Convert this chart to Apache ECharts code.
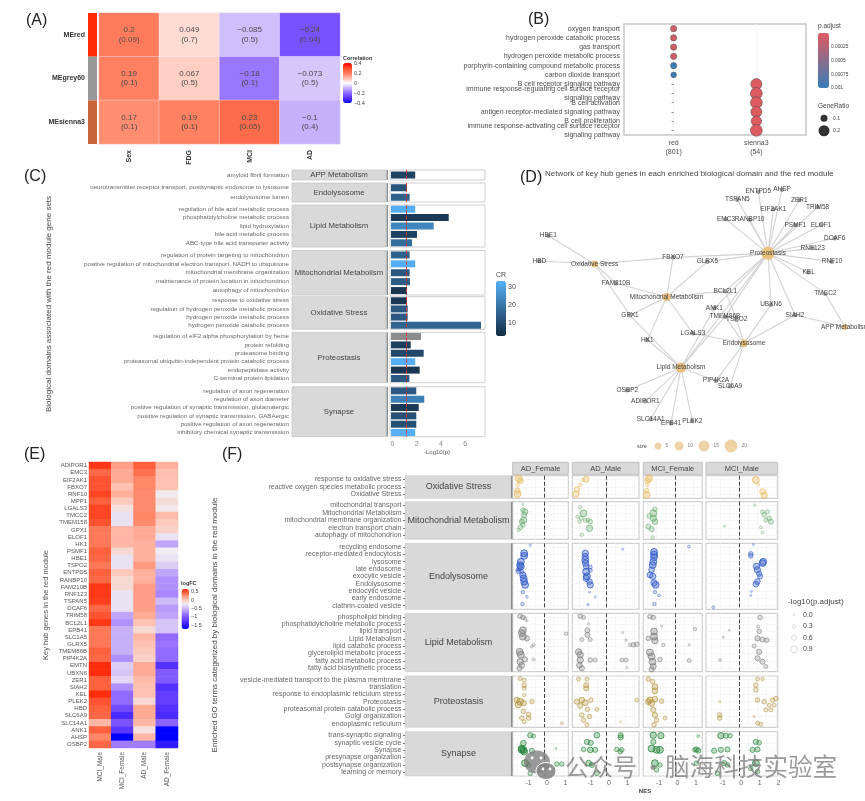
<!DOCTYPE html>
<html><head><meta charset="utf-8">
<style>html,body{margin:0;padding:0;background:#fff}#c{width:865px;height:801px;filter:blur(0.45px)}</style>
<script src="https://cdn.jsdelivr.net/npm/echarts@6/dist/echarts.min.js"></script>
</head><body><div id="c"></div>
<script>
// ---------- Panel A data
const aModules=['MEred','MEgrey60','MEsienna3'];
const aModuleColors=['#ff2a08','#999999','#c8673a'];
const aTraits=['Sex','FDG','MCI','AD'];
const aCorr=[[0.2,0.049,-0.085,-0.24],[0.19,0.067,-0.18,-0.073],[0.17,0.19,0.23,-0.1]];
const aPval=[['0.09','0.7','0.5','0.04'],['0.1','0.5','0.1','0.5'],['0.1','0.1','0.05','0.4']];
const aTicks=[0.4,0.2,0,-0.2,-0.4];
// ---------- Panel B data
const bTerms=['oxygen transport','hydrogen peroxide catabolic process','gas transport','hydrogen peroxide metabolic process','porphyrin-containing compound metabolic process','carbon dioxide transport','B cell receptor signaling pathway','immune response-regulating cell surface receptor\nsignaling pathway','B cell activation','antigen receptor-mediated signaling pathway','B cell proliferation','immune response-activating cell surface receptor\nsignaling pathway'];
const bModules=['red\n(801)','sienna3\n(54)'];
const bColumn=[0,0,0,0,0,0,1,1,1,1,1,1];
const bPadj=[0.0001,0.0001,0.0001,0.0001,0.00098,0.00098,0.00001,0.00001,0.00001,0.00001,0.00001,0.00001];
const bRatio=[0.075,0.075,0.075,0.075,0.075,0.06,0.21,0.23,0.23,0.21,0.19,0.23];
const bPTicks=[0.00025,0.0005,0.00075,0.001];
const bRatioTicks=[0.1,0.2];
// ---------- Panel C data
const cDomains=['APP Metabolism','Endolysosome','Lipid Metabolism','Mitochondrial Metabolism','Oxidative Stress','Proteostasis','Synapse'];
const cTerms=[['amyloid fibril formation'],
['neurotransmitter receptor transport, postsynaptic endosome to lysosome','endolysosome lumen'],
['regulation of bile acid metabolic process','phosphatidylcholine metabolic process','lipid hydroxylation','bile acid metabolic process','ABC-type bile acid transporter activity'],
['regulation of protein targeting to mitochondrion','positive regulation of mitochondrial electron transport, NADH to ubiquinone','mitochondrial membrane organization','maintenance of protein location in mitochondrion','autophagy of mitochondrion'],
['response to oxidative stress','regulation of hydrogen peroxide metabolic process','hydrogen peroxide metabolic process','hydrogen peroxide catabolic process'],
['regulation of eIF2 alpha phosphorylation by heme','protein refolding','proteasome binding','proteasomal ubiquitin-independent protein catabolic process','endopeptidase activity','C-terminal protein lipidation'],
['regulation of axon regeneration','regulation of axon diameter','positive regulation of synaptic transmission, glutamatergic','positive regulation of synaptic transmission, GABAergic','positive regulation of axon regeneration','inhibitory chemical synaptic transmission']];
const cLogP=[[2.0],[1.32,1.54],[2.0,4.77,3.53,2.15,1.74],[1.54,2.0,1.54,1.57,1.32],[1.32,1.38,1.38,7.44],[2.48,1.63,2.7,2.0,2.37,1.52],[2.09,2.75,2.29,2.09,2.09,2.0]];
const cCR=[[8],[12,15],[33,6,24,8,18],[15,33,13,14,5],[5,13,13,16],[-1,7,9,33,5,13],[13,22,6,11,11,33]];
const cXTicks=[0,2,4,6];
const cCRTicks=[10,20,30];
// ---------- Panel D data (layout coordinates of the network)
const dDomains=[['Proteostasis',744,265,707,285,20],['Oxidative Stress',224,297,147,315,5],['Mitochondrial Metabolism',440,396,418,378,8],['Lipid Metabolism',483,608,462,590,13],['Endolysosome',672,535,694,517,7],['APP Metabolism',975,486,934,505,2]];
const dGenes=[['ENTPD5',715,80,693,63],['AHSP',786,74,808,58],['ZER1',838,105,816,92],['TSPAN5',652,104,630,121],['EIF2AK1',760,133,738,150],['EMC3',618,163,594,183],['RANBP10',689,164,686,180],['TRIM58',893,126,915,143],['PSMF1',826,180,804,196],['ELOF1',903,180,925,196],['DCAF6',944,220,921,237],['RNF123',878,250,854,268],['RNF10',936,290,958,274],['KEL',866,322,844,340],['TMCC2',916,386,938,371],['SIAH2',825,450,804,466],['UBXN6',753,419,731,437],['TSPO2',650,464,672,482],['BCL2L1',616,378,636,363],['ANK1',583,430,561,412],['TMEM86B',615,455,600,440],['GLRX5',562,290,583,274],['FBXO7',459,277,481,260],['FAM210B',288,355,266,337],['GPX1',330,451,308,469],['HK1',382,525,360,543],['LGALS3',519,505,497,523],['PIP4K2A',588,647,566,629],['SLC6A9',630,664,652,682],['OSBP2',322,676,344,660],['ADIPOR1',376,709,397,694],['SLC14A1',392,762,369,745],['EPB41',453,775,431,793],['PLEK2',517,768,538,752],['HBE1',85,212,62,232],['HBD',58,288,41,307]];
const dLinks=[['Proteostasis',['ENTPD5','AHSP','ZER1','TSPAN5','EIF2AK1','EMC3','RANBP10','TRIM58','PSMF1','ELOF1','DCAF6','RNF123','RNF10','KEL','TMCC2','SIAH2','UBXN6','FBXO7','GLRX5','BCL2L1','TMEM86B','ANK1','Lipid Metabolism']],
['Oxidative Stress',['HBE1','HBD','FBXO7','GPX1','FAM210B']],
['Mitochondrial Metabolism',['FAM210B','GLRX5','BCL2L1','LGALS3','FBXO7','HK1','GPX1']],
['Lipid Metabolism',['OSBP2','ADIPOR1','SLC14A1','EPB41','PLEK2','PIP4K2A','ANK1','TMEM86B','GPX1','HK1']],
['Endolysosome',['LGALS3','TSPO2','SIAH2','UBXN6','PIP4K2A','SLC6A9','TMEM86B']],
['APP Metabolism',['SIAH2','TMCC2']],['BCL2L1',['TSPO2']]];
const dSizeLegend=[5,10,15,20];
// ---------- Panel E data
const eGenes=['ADIPOR1','EMC3','EIF2AK1','FBXO7','RNF10','MPP1','LGALS3','TMCC2','TMEM158','GPX1','ELOF1','HK1','PSMF1','HBE1','TSPO2','ENTPD5','RANBP10','FAM210B','RNF123','TSPAN5','DCAF6','TRIM58','BCL2L1','EPB41','SLC1A5','GLRX5','TMEM86B','PIP4K2A','EMTN','UBXN6','ZER1','SIAH2','KEL','PLEK2','HBD','SLC6A9','SLC14A1','ANK1','AHSP','OSBP2'];
const eCols=['MCI_Male','MCI_Female','AD_Male','AD_Female'];
const eMciMale=[.6,.42,.5,.5,.55,.45,.55,.55,.5,.35,.35,.35,.45,.42,.35,.45,.42,.6,.6,.58,.42,.5,.6,.35,.35,.35,.45,.42,.65,.65,.45,.45,.65,.5,.45,.42,.1,.45,.3,.42];
const eMciFemale=[.2,.15,.15,.05,.12,0,-.15,-.3,-.3,.1,.1,.1,-.1,-.3,-.3,0,-.1,-.1,-.3,-.3,-.3,-.6,-.7,-.55,-.55,-.55,-.55,-.7,-.4,-.45,-.35,-.7,-.9,-.9,-1.1,-1.35,-1.05,-1.25,-1.75,-.8];
const eAdMale=[.45,.38,.3,.3,.28,.28,.28,.3,.28,.15,.15,.12,.12,.12,.22,.12,.12,.2,.2,.2,.2,.15,.05,-.1,.1,.05,0,-.05,.15,.15,.08,.05,.05,-.1,.15,.15,.1,-.15,.1,-.8];
const eAdFemale=[.12,.06,.05,.05,-.22,-.12,-.2,.08,0,-.05,-.3,-.6,-.25,-.3,-.4,-.6,-.7,-.7,-.75,-.5,-.65,-.6,-.45,-.45,-.9,-.85,-.9,-.9,-1.3,-1,-1,-1.3,-1.2,-1.2,-1.3,-1.35,-.95,-1.75,-1.75,-1.5];
const eTicks=[0.5,0,-0.5,-1,-1.5];
// ---------- Panel F data: [NES, position down the facet, -log10(p.adjust)]
const fCols=['AD_Female','AD_Male','MCI_Female','MCI_Male'];
const fXTickLabels=[[-1,0,1],[-1,0,1],[-1,0,1],[-1,0,1,2]];
const fDomains=['Oxidative Stress','Mitochondrial Metabolism','Endolysosome','Lipid Metabolism','Proteostasis','Synapse'];
const fTerms=[['response to oxidative stress','reactive oxygen species metabolic process','Oxidative Stress'],
['mitochondrial transport','Mitochondrial Metabolism','mitochondrial membrane organization','electron transport chain','autophagy of mitochondrion'],
['recycling endosome','receptor-mediated endocytosis','lysosome','late endosome','exocytic vesicle','Endolysosome','endocytic vesicle','early endosome','clathrin-coated vesicle'],
['phospholipid binding','phosphatidylcholine metabolic process','lipid transport','Lipid Metabolism','lipid catabolic process','glycerolipid metabolic process','fatty acid metabolic process','fatty acid biosynthetic process'],
['vesicle-mediated transport to the plasma membrane','translation','response to endoplasmic reticulum stress','Proteostasis','proteasomal protein catabolic process','Golgi organization','endoplasmic reticulum'],
['trans-synaptic signaling','synaptic vesicle cycle','Synapse','presynapse organization','postsynapse organization','learning or memory']];
const fOxidative=[
[[-1.4,.12,.9],[-1.3,.22,.7],[-1.46,.41,.3],[-1.46,.66,.6],[-1.46,.81,.9]],
[[-1.1,.16,.7],[-1.28,.19,.3],[-1.42,.41,.3],[-1.6,.6,.6],[-1.66,.82,.8]],
[[-1.4,.12,.9],[-1.48,.22,.7],[-1.5,.41,.3],[-1.53,.66,.5],[-1.53,.85,.9]],
[[.92,.19,.9],[1.05,.41,.2],[1.28,.7,.7],[1.37,.88,.8]]];
const fMito=[
[[-1.17,.07,.1],[-1.17,.22,.5],[-1.05,.27,.7],[-1.1,.35,.6],[-1.13,.49,.8],[-1.23,.53,.6],[-1.17,.62,.5],[-1.3,.68,.5],[-1.4,.75,.3]],
[[-1.42,.15,.3],[-1.24,.31,.9],[-1.57,.4,.3],[-1.37,.44,.4],[-1.46,.53,.3],[-1.15,.5,.4],[-1.0,.49,.4],[-.88,.53,.5],[-.92,.71,.8],[-1.33,.88,.3]],
[[-1.08,.2,.5],[-1.17,.31,.9],[-1.39,.38,.5],[-1.17,.44,.8],[-1.08,.53,.7],[-1.44,.66,.6],[-1.26,.73,.6],[-1.21,.95,.3]],
[[.86,.09,.1],[-.76,.65,.1],[1.28,.27,.4],[1.55,.27,.4],[1.37,.35,.5],[1.64,.44,.5],[1.73,.53,.6],[1.46,.49,.4],[1.19,.68,.2],[1.28,.82,.2]]];
const fEndo=[
[[-.77,.03,.1],[-1.1,.15,.9],[-1.1,.19,.9],[-1.28,.28,.9],[-1.32,.33,.9],[-1.28,.35,.9],[-1.35,.38,.6],[-1.41,.43,.4],[-1.46,.41,.3],[-1.23,.43,.4],[-1.17,.48,.8],[-1.13,.53,.9],[-1.1,.58,.9],[-1.05,.63,.9],[-1.17,.74,.3],[-.95,.81,.15],[-1.19,.92,.3]],
[[.88,.09,.05],[-1.15,.15,.8],[-1.15,.2,.8],[-1.15,.25,.9],[-1.13,.3,.8],[-1.1,.35,.7],[-.88,.36,.4],[-1.1,.43,.9],[-.88,.41,.4],[-1.06,.5,.9],[-1.1,.53,.8],[-.92,.58,.7],[-.88,.63,.8],[-.92,.74,.05],[-.61,.81,.05],[-1,.93,.1]],
[[.76,.05,.2],[-1.13,.13,.9],[-1.13,.17,.9],[-1.13,.21,.9],[-1.17,.28,.9],[-1.2,.33,.9],[-1.26,.4,.7],[-1.35,.48,.7],[-1.2,.5,.8],[-1.13,.6,.8],[-1.04,.63,.9],[-1.08,.74,.3],[-.86,.79,.2],[-1.11,.92,.3]],
[[.79,.02,.05],[.65,.16,.5],[.65,.19,.5],[1.32,.28,.9],[1.28,.3,.9],[.95,.35,.8],[1,.4,.8],[1.1,.46,.6],[1.15,.5,.6],[1,.58,.7],[.92,.62,.7],[.68,.73,.05],[.65,.79,.05],[-1.37,.97,.2]]];
const fLipid=[
[[-1.32,.05,.5],[-1.17,.07,.5],[-1.05,.09,.3],[-.95,.13,.1],[-1.17,.29,.9],[-1.23,.34,.9],[-1.17,.4,.9],[-.95,.43,.6],[-.59,.54,.2],[-.68,.57,.2],[1.17,.35,.3],[-1.35,.66,.9],[-1.28,.71,.9],[-1.05,.79,.6],[-.59,.79,.2],[-1.32,.83,.8],[-1.23,.89,.7],[-1.35,.94,.6]],
[[-1.42,.05,.5],[-1.24,.07,.4],[-.97,.18,.1],[-1.03,.29,.6],[-1.03,.37,.6],[-1.33,.45,.4],[-.88,.45,.4],[.88,.33,.05],[1.06,.46,.1],[1.28,.54,.3],[1.64,.53,.5],[1.46,.54,.5],[-1.51,.66,.8],[-1.42,.71,.8],[-1.42,.8,.8],[-.88,.8,.5],[-.61,.8,.4],[-1.46,.89,.7],[-1.33,.94,.6],[.83,.8,.4],[1.06,.8,.4],[1.1,.93,.05]],
[[-1.35,.06,.5],[-1.17,.07,.5],[-.72,.22,.1],[-1.13,.31,.9],[-1.13,.4,.9],[-1.08,.47,.8],[-1.44,.43,.5],[-.63,.54,.3],[1.08,.27,.3],[.77,.54,.1],[.77,.81,.4],[-1.35,.67,.9],[-1.26,.74,.9],[-.81,.79,.5],[-1.21,.83,.9],[-1.17,.91,.7],[-1.26,.96,.6]],
[[1.15,.07,.5],[1.05,.23,.2],[-.52,.29,.05],[-.83,.41,.1],[1.1,.31,.5],[1.01,.43,.6],[1.28,.45,.6],[1.51,.46,.5],[.83,.56,.4],[1.1,.66,.6],[1.01,.77,.6],[1.28,.83,.6],[1.46,.91,.4],[-1.01,.8,.2]]];
const fProteo=[
[[-1.32,.05,.4],[-1.1,.08,.4],[-1.1,.18,.5],[-1.1,.24,.4],[-1.1,.37,.3],[-1.5,.47,.7],[-1.32,.5,.9],[-1.14,.53,.7],[-1.41,.56,.8],[-.68,.5,.5],[-1.14,.69,.5],[-.86,.75,.5],[-1.23,.82,.5],[-.86,.82,.5],[-1.1,.89,.4],[.94,.92,.2]],
[[-1.51,.06,.4],[-1.06,.06,.4],[-1.1,.18,.6],[-1.1,.24,.6],[-1.6,.5,.6],[-1.33,.47,.7],[-1.15,.52,.7],[-.85,.47,.5],[-1.42,.58,.6],[-1.03,.65,.5],[-.52,.65,.4],[-1.33,.76,.5],[-.92,.79,.5],[-1.24,.86,.5],[-1.06,.95,.4],[1.64,.47,.4],[.77,.89,.05]],
[[-1.44,.06,.5],[-1.2,.11,.5],[-1.08,.21,.7],[-1.08,.29,.7],[-1.35,.47,.8],[-1.08,.45,.7],[-1.26,.53,.8],[-.72,.49,.5],[-1.44,.5,.7],[-1.17,.66,.6],[-1.08,.76,.6],[-.54,.82,.4],[-.99,.86,.5],[-1.13,.95,.5]],
[[1.01,.06,.4],[1.28,.06,.3],[.92,.18,.5],[.92,.27,.5],[-1.03,.5,.1],[-1.03,.76,.5],[-1.03,.82,.5],[1.01,.47,.5],[1.37,.5,.5],[1.82,.47,.5],[2,.44,.5],[1.64,.57,.4],[1.91,.57,.4],[1.46,.66,.4],[1.73,.66,.4],[.83,.79,.1],[1.01,.92,.4],[1.19,.94,.4]]];
const fSynapse=[
[[-.77,.08,.6],[-.59,.1,.4],[-1.14,.26,.7],[-1.23,.38,.9],[-1.23,.41,.9],[-1.14,.41,.9],[-1.1,.45,.9],[-.68,.43,.6],[.63,.38,.05],[-1.05,.71,.9],[-.86,.75,.5],[.67,.73,.5],[.94,.73,.5],[-.77,.94,.5]],
[[-.52,.08,.7],[-1.06,.23,.6],[-.85,.25,.6],[-1.24,.4,.5],[-.88,.41,.7],[-.61,.41,.6],[-.97,.71,.7],[-.79,.75,.6],[-.52,.94,.5],[.77,.08,.6],[.77,.13,.6],[.56,.4,.5],[.83,.41,.5],[.74,.45,.5]],
[[-1.17,.08,.8],[-.76,.09,.8],[-1.17,.23,.6],[-1.26,.38,.9],[-.99,.41,.9],[-.81,.41,.9],[-1.08,.71,.9],[-.81,.75,.5],[-.99,.86,.5],[1.26,.1,.2],[1.17,.4,.6],[1.08,.41,.5],[1.26,.43,.6],[1.17,.71,.5]],
[[-.97,.09,.8],[-.7,.09,.6],[-.47,.09,.5],[-1.33,.43,.6],[-.97,.41,.6],[-.61,.4,.6],[-.79,.71,.6],[-.61,.75,.5],[-1.15,.94,.5],[.92,.23,.6],[1.1,.25,.5],[.74,.41,.6],[1.01,.4,.6],[.92,.71,.9],[.65,.83,.5],[1.01,.9,.5]]];
const fLegend=[0,0.3,0.6,0.9];

// ---------- Styling constants
const FONT='"Liberation Sans", Arial, sans-serif';
const corrRamp=['#0000ff','#5a32ff','#8e68ff','#c5b2fa','#ffffff','#ffb8a5','#ff7b5b','#ff4a2a','#ff0000'];
const fcRamp=['#0000ff','#3e20ff','#6d45ff','#9a74ff','#c9b2f8','#f0eef2','#ffc0b0','#ff7755','#ff2a08'];
const fColors=['#e8b95a','#6fae75','#2f58c6','#7f7f7f','#b4953f','#25853a'];
const STRIP='#d9d9d9', FRAME='#cfcfcf', GRIDLINE='#f4f4f4', AXIS_TXT='#595959';

const grids=[],xAxes=[],yAxes=[],series=[],visualMaps=[],gfx=[];
function rectOf(l,t,r,b){return {left:l,top:t,width:r-l,height:b-t};}
function addGrid(rect,style){grids.push(Object.assign({outerBoundsMode:'none',containLabel:false,show:true,borderWidth:0,backgroundColor:'transparent'},rect,style||{}));return grids.length-1;}
function hiddenAxis(g,extra){return Object.assign({gridIndex:g,type:'value',show:false},extra||{});}
function valAxis(g,extra){return Object.assign({gridIndex:g,type:'value',axisLine:{show:false},axisTick:{show:false},axisLabel:{show:false},splitLine:{show:false}},extra||{});}
function catAxis(g,data,extra){return Object.assign({gridIndex:g,type:'category',data:data,axisLine:{show:false},axisTick:{show:false},splitLine:{show:false},splitArea:{show:false},axisLabel:{show:false,interval:0}},extra||{});}
function text(x,y,str,o){o=o||{};gfx.push({type:'text',x:x,y:y,rotation:o.rot||0,z:20,silent:true,style:{text:str,fill:o.color||'#333',font:(o.weight||'normal')+' '+(o.size||7)+'px '+(o.family||FONT),align:o.align||'left',verticalAlign:'middle'}});}
function rect(x,y,w,h,fill){gfx.push({type:'rect',x:x,y:y,z:19,silent:true,shape:{width:w,height:h},style:{fill:fill}});}

function colorbar(l,t,w,h,min,max,ticks,ramp,seriesIdx,dim,size,inverse,extra){
  visualMaps.push(Object.assign({type:'continuous',min:min,max:max,inRange:{color:ramp},seriesIndex:seriesIdx,dimension:dim,left:l,top:t,itemWidth:w,itemHeight:h,padding:0,calculable:false,hoverLink:false,text:null,show:true,inverse:!!inverse,textStyle:{fontSize:1,color:'transparent'}},extra||{}));
  const g=addGrid(rectOf(l,t,l+w,t+h),{show:false});
  xAxes.push(hiddenAxis(g,{min:0,max:1}));
  yAxes.push(valAxis(g,{min:min,max:max,inverse:!!inverse,position:'right',axisLabel:{show:true,customValues:ticks,fontSize:size,margin:2,color:'#444',fontFamily:FONT,showMinLabel:true,showMaxLabel:true,formatter:v=>{const s=String(v);return v<0?s.replace('-','−'):s;}},axisTick:{show:false,customValues:ticks}}));
}

// ---------- Panel letters
[['(A)',26,21],['(B)',528,20],['(C)',24,177],['(D)',520,178],['(E)',24,455],['(F)',222,455]].forEach(p=>text(p[1],p[2],p[0],{size:16,color:'#222'}));

// ---------- Panel A
(function(){
  const gs=addGrid(rectOf(88,13,97,144));
  xAxes.push(hiddenAxis(gs,{min:0,max:1}));
  yAxes.push(catAxis(gs,aModules,{inverse:true,axisLabel:{show:true,interval:0,fontSize:7,fontWeight:'bold',color:'#333',margin:3,fontFamily:FONT}}));
  series.push({type:'bar',xAxisIndex:xAxes.length-1,yAxisIndex:yAxes.length-1,barWidth:'100%',silent:true,data:aModuleColors.map(c=>({value:1,itemStyle:{color:c}}))});
  const g=addGrid(rectOf(99,13,340,144));
  xAxes.push(catAxis(g,aTraits,{axisLabel:{show:true,interval:0,rotate:90,fontSize:7,fontWeight:'bold',color:'#333',margin:6,fontFamily:FONT}}));
  yAxes.push(catAxis(g,aModules,{inverse:true}));
  const d=[];aCorr.forEach((r,i)=>r.forEach((v,j)=>d.push([j,i,v,aPval[i][j]])));
  const idx=series.length;
  series.push({type:'heatmap',xAxisIndex:xAxes.length-1,yAxisIndex:yAxes.length-1,data:d,silent:true,itemStyle:{borderColor:'#f4eef8',borderWidth:0.4},
    label:{show:true,fontSize:8,lineHeight:9.5,color:'#4a4a4a',fontFamily:FONT,formatter:p=>String(p.value[2]).replace('-','−')+'\n('+p.value[3]+')'}});
  colorbar(343,63,9,40,-0.4,0.4,aTicks,corrRamp,[idx],2,5.5);
  text(343,58,'Correlation',{size:5.5,weight:'bold'});
})();

// ---------- Panel B
(function(){
  const g=addGrid(rectOf(624,24,806,135),{borderWidth:1.5,borderColor:'#c8c8c8'});
  xAxes.push(valAxis(g,{min:-0.6,max:1.6,axisLabel:{show:true,customValues:[0,1],fontSize:7,lineHeight:9,color:'#4d4d4d',margin:4,fontFamily:FONT,formatter:v=>bModules[v]},axisTick:{show:false,customValues:[0,1]},splitLine:{show:true,lineStyle:{color:GRIDLINE,width:1}}}));
  yAxes.push(catAxis(g,bTerms,{inverse:true,axisTick:{show:true,length:2,alignWithLabel:true,lineStyle:{color:'#888'}},axisLabel:{show:true,interval:0,fontSize:7,lineHeight:8.5,color:'#4d4d4d',margin:4,fontFamily:FONT}}));
  const idx=series.length;
  series.push({type:'scatter',xAxisIndex:xAxes.length-1,yAxisIndex:yAxes.length-1,silent:true,
    data:bTerms.map((t,i)=>[bColumn[i],i,bPadj[i],bRatio[i]]),encode:{x:0,y:1},
    symbolSize:v=>3.5+36*v[3],itemStyle:{borderColor:'#555',borderWidth:0.6,opacity:1}});
  colorbar(818,33,11,55,0,0.001,bPTicks,['#e05a60','#377eb8'],[idx],2,4.8,true);
  text(818,26,'p.adjust',{size:6.5,color:'#444'});
  text(818,106,'GeneRatio',{size:6.5,color:'#444'});
  const l=addGrid(rectOf(818,112,830,137),{show:false});
  xAxes.push(hiddenAxis(l,{min:0,max:1}));
  yAxes.push(catAxis(l,bRatioTicks,{inverse:true,position:'right',axisLabel:{show:true,interval:0,fontSize:5,color:'#444',margin:3,fontFamily:FONT}}));
  series.push({type:'scatter',xAxisIndex:xAxes.length-1,yAxisIndex:yAxes.length-1,silent:true,data:bRatioTicks.map((v,i)=>[0.5,i,v]),symbolSize:v=>3+40*v[2],itemStyle:{color:'#000'}});
})();

// ---------- Panel C
(function(){
  const rows=[[170,180],[183,202],[205,247],[250.5,295],[296.7,329.3],[332.3,382.7],[386.7,436.7]];
  const idxs=[];
  rows.forEach((r,k)=>{
    const s=addGrid(rectOf(292,r[0],386,r[1]),{backgroundColor:STRIP,borderWidth:0.6,borderColor:'#bdbdbd'});
    xAxes.push(hiddenAxis(s,{min:0,max:1}));
    yAxes.push(catAxis(s,cTerms[k],{inverse:true,axisLabel:{show:true,interval:0,fontSize:6.2,color:'#666',margin:3,fontFamily:FONT}}));
    rect(386.5,r[0],1.5,r[1]-r[0],'#8f8f8f');
    text(339,(r[0]+r[1])/2,cDomains[k],{size:7.8,align:'center',color:'#444'});
    const last=k===rows.length-1;
    const g=addGrid(rectOf(390,r[0],485,r[1]),{borderWidth:1,borderColor:FRAME});
    xAxes.push(valAxis(g,{min:-0.083,max:7.77,axisLabel:{show:last,customValues:cXTicks,fontSize:7,color:'#888',margin:4,padding:[0,0,0,3],fontFamily:FONT},axisTick:{show:false,customValues:cXTicks}}));
    yAxes.push(catAxis(g,cTerms[k],{inverse:true}));
    idxs.push(series.length);
    series.push({type:'bar',xAxisIndex:xAxes.length-1,yAxisIndex:yAxes.length-1,barWidth:7,silent:true,encode:{x:0,y:1},
      data:cLogP[k].map((v,i)=>[v,i,cCR[k][i]]),
      markLine:{silent:true,symbol:'none',animation:false,label:{show:false},lineStyle:{type:'dashed',color:'#e0322d',width:0.9},data:[{xAxis:1.3}]}});
  });
  colorbar(496,281,10,55,2.4,33.7,cCRTicks,['#132b43','#56b1f7'],idxs,2,7,false,{range:[2.45,33.7],outOfRange:{color:'#8c8c8c'}});
  text(496,275,'CR',{size:7,color:'#444'});
  text(49,304,'Biological domains associated with the red module gene sets',{size:8,rot:Math.PI/2,align:'center',color:'#444'});
  text(437,452,'-Log10(p)',{size:6,align:'center',color:'#555'});
})();

// ---------- Panel D
(function(){
  text(545,174,'Network of key hub genes in each enriched biological domain and the red module',{size:8,color:'#444'});
  const g=addGrid(rectOf(520,165,865,450),{show:false});
  xAxes.push(hiddenAxis(g,{min:0,max:1035}));
  yAxes.push(hiddenAxis(g,{min:0,max:855,inverse:true}));
  const nodeOf=(n,big)=>({name:n[0],value:[n[1],n[2]],symbolSize:big?5+0.4*n[5]:4.5,
    itemStyle:{color:big?'#e9c07e':'#a0a0a0',opacity:1},
    label:{show:true,position:'inside',offset:[(n[3]-n[1])/3,(n[4]-n[2])/3],fontSize:6.5,color:'#444',fontFamily:FONT}});
  const links=[];dLinks.forEach(l=>l[1].forEach(t=>links.push({source:l[0],target:t})));
  series.push({type:'graph',coordinateSystem:'cartesian2d',xAxisIndex:xAxes.length-1,yAxisIndex:yAxes.length-1,layout:'none',silent:true,roam:false,
    data:dDomains.map(n=>nodeOf(n,true)).concat(dGenes.map(n=>nodeOf(n,false))),links:links,
    lineStyle:{color:'#d2d2d2',width:1.1,opacity:1,curveness:0},labelLayout:{hideOverlap:false}});
  text(642,446,'size',{size:5.5,align:'center',color:'#444'});
  const l=addGrid(rectOf(646,440,756,452),{show:false});
  xAxes.push(hiddenAxis(l,{min:0,max:110}));
  yAxes.push(hiddenAxis(l,{min:0,max:1}));
  const legendX=[12,33,58,85];
  series.push({type:'scatter',xAxisIndex:xAxes.length-1,yAxisIndex:yAxes.length-1,silent:true,
    data:dSizeLegend.map((v,i)=>[legendX[i],0.5,v]),symbolSize:v=>5+0.4*v[2],itemStyle:{color:'#e9c88e'},
    label:{show:true,position:'right',distance:4,fontSize:4.8,color:'#555',fontFamily:FONT,formatter:p=>p.value[2]}});
})();

// ---------- Panel E
(function(){
  const g=addGrid(rectOf(89,462,178,748));
  xAxes.push(catAxis(g,eCols,{axisLabel:{show:true,interval:0,rotate:90,fontSize:6.5,color:'#555',margin:4,fontFamily:FONT}}));
  yAxes.push(catAxis(g,eGenes,{inverse:true,axisLabel:{show:true,interval:0,fontSize:6,color:'#555',margin:2,fontFamily:FONT}}));
  const d=[];[eMciMale,eMciFemale,eAdMale,eAdFemale].forEach((c,j)=>c.forEach((v,i)=>d.push([j,i,v])));
  const idx=series.length;
  series.push({type:'heatmap',xAxisIndex:xAxes.length-1,yAxisIndex:yAxes.length-1,data:d,silent:true,label:{show:false}});
  colorbar(181.5,589,7.5,40,-1.74,0.66,eTicks,fcRamp,[idx],2,5.5);
  text(181,583,'logFC',{size:5.5,weight:'bold'});
  text(46,605,'Key hub genes in the red module',{size:7.5,rot:Math.PI/2,align:'center',color:'#555'});
})();

// ---------- Panel F
(function(){
  const rows=[[475.7,498.3],[501.7,539.3],[543.3,609.3],[613.3,671.7],[676,727.3],[731.7,776]];
  const cols=[[512.7,568.3,-1.72,1.29],[572.3,639,-1.85,1.76],[643.3,702.3,-1.71,1.48],[706,777.7,-1.77,2.1]];
  const sets=[fOxidative,fMito,fEndo,fLipid,fProteo,fSynapse];
  cols.forEach((c,j)=>{
    const h=addGrid(rectOf(c[0],462.3,c[1],474.3),{backgroundColor:STRIP,borderWidth:1,borderColor:'#c0c0c0'});
    xAxes.push(hiddenAxis(h,{min:0,max:1}));yAxes.push(hiddenAxis(h,{min:0,max:1}));
    text((c[0]+c[1])/2,468.5,fCols[j],{size:7.5,align:'center',color:'#444'});
  });
  const sizeOf=v=>1.8+5.6*v[2];
  rows.forEach((r,k)=>{
    const s=addGrid(rectOf(405,r[0],511,r[1]),{backgroundColor:STRIP,borderWidth:0.6,borderColor:'#c8c8c8'});
    xAxes.push(hiddenAxis(s,{min:0,max:1}));
    yAxes.push(catAxis(s,fTerms[k],{inverse:true,axisTick:{show:true,length:2,alignWithLabel:true,lineStyle:{color:'#777'}},axisLabel:{show:true,interval:0,fontSize:7,color:'#666',margin:3.5,fontFamily:FONT}}));
    rect(511,r[0],1.5,r[1]-r[0],'#8f8f8f');
    text(458.5,(r[0]+r[1])/2,fDomains[k],{size:9,align:'center',color:'#444'});
    const n=fTerms[k].length, yTicks=fTerms[k].map((t,i)=>(i+0.5)/n);
    const last=k===rows.length-1;
    cols.forEach((c,j)=>{
      const g=addGrid(rectOf(c[0],r[0],c[1],r[1]),{borderWidth:1.2,borderColor:FRAME});
      const minor=[-1.5,-1,-0.5,0,0.5,1,1.5,2].filter(v=>v>c[2]&&v<c[3]);
      xAxes.push(valAxis(g,{min:c[2],max:c[3],axisTick:{show:false,customValues:minor},splitLine:{show:true,lineStyle:{color:GRIDLINE,width:0.8}},
        axisLabel:{show:last,customValues:fXTickLabels[j],fontSize:7,color:'#666',margin:4,padding:[0,0,0,5],fontFamily:FONT}}));
      yAxes.push(valAxis(g,{min:0,max:1,inverse:true,axisTick:{show:false,customValues:yTicks},splitLine:{show:true,lineStyle:{color:GRIDLINE,width:0.8}}}));
      series.push({type:'scatter',xAxisIndex:xAxes.length-1,yAxisIndex:yAxes.length-1,silent:true,clip:true,
        data:sets[k][j].map(v=>({value:v,itemStyle:{opacity:0.35+0.6*v[2]}})),
        symbolSize:sizeOf,
        itemStyle:{color:fColors[k]+'66',borderColor:fColors[k],borderWidth:0.9},
        markLine:{silent:true,symbol:'none',animation:false,label:{show:false},lineStyle:{type:'dashed',color:'#444',width:1},data:[{xAxis:0}]}});
    });
  });
  text(215,625,'Enriched GO terms categorized by biological domains in the red module',{size:8,rot:Math.PI/2,align:'center',color:'#444'});
  text(645,791,'NES',{size:6,align:'center',weight:'bold',color:'#444'});
  text(788,602,'-log10(p.adjust)',{size:8,color:'#444'});
  const l=addGrid(rectOf(788,609,806,655),{show:false});
  xAxes.push(hiddenAxis(l,{min:0,max:1}));
  yAxes.push(catAxis(l,fLegend.map(v=>v.toFixed(1)),{inverse:true,position:'right',axisLabel:{show:true,interval:0,fontSize:7,color:'#444',margin:-3,align:'left',fontFamily:FONT}}));
  series.push({type:'scatter',xAxisIndex:xAxes.length-1,yAxisIndex:yAxes.length-1,silent:true,data:fLegend.map((v,i)=>[0.33,i,v]),symbolSize:sizeOf,itemStyle:{color:'transparent',borderColor:'#cfcfcf',borderWidth:0.9}});
})();

// ---------- Watermark
gfx.push({type:'ellipse',x:537,y:762,z:21,silent:true,shape:{cx:0,cy:0,rx:13,ry:11.5},style:{fill:'rgba(120,120,120,.75)'}});
gfx.push({type:'ellipse',x:546,y:771,z:22,silent:true,shape:{cx:0,cy:0,rx:10,ry:8.5},style:{fill:'rgba(135,135,135,.9)',stroke:'#fff',lineWidth:1}});
[[532,758,23],[541,758,23],[543,769,23],[550,769,23]].forEach(e=>gfx.push({type:'circle',x:e[0],y:e[1],z:e[2],silent:true,shape:{cx:0,cy:0,r:1.4},style:{fill:'#fff'}}));
text(565,767,'公众号',{size:24,family:'"Noto Sans CJK SC"',color:'rgba(115,115,115,.72)'});
text(641,767,'·',{size:24,family:'"Noto Sans CJK SC"',color:'rgba(115,115,115,.72)'});
text(665,767,'脑海科技实验室',{size:24.6,family:'"Noto Sans CJK SC"',color:'rgba(115,115,115,.72)'});

const chart=echarts.init(document.getElementById('c'),null,{renderer:'canvas',width:865,height:801});
chart.setOption({animation:false,backgroundColor:'#fff',textStyle:{fontFamily:FONT},tooltip:{show:false},
  grid:grids,xAxis:xAxes,yAxis:yAxes,series:series,visualMap:visualMaps,graphic:{elements:gfx}});
</script></body></html>
